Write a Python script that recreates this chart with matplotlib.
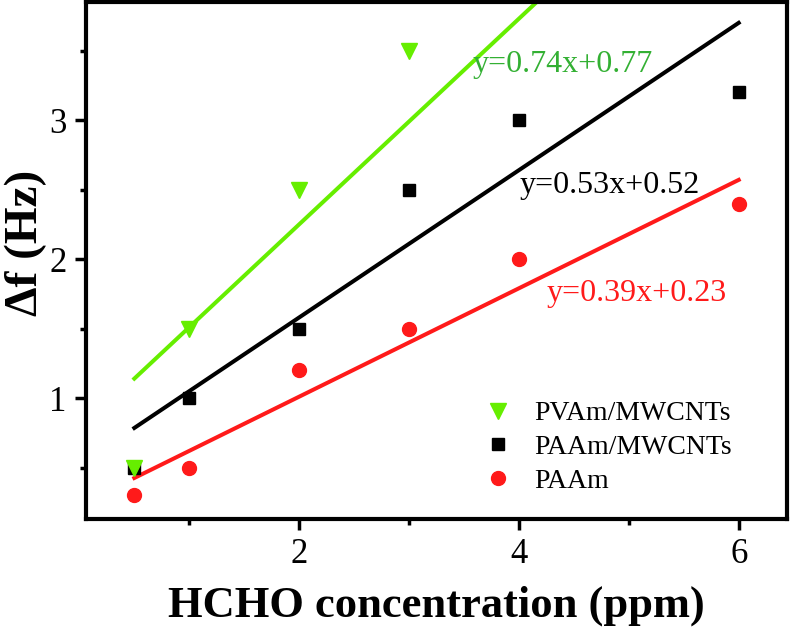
import matplotlib
matplotlib.use("Agg")
import matplotlib.pyplot as plt
import numpy as np
from matplotlib.ticker import MultipleLocator

plt.rcParams['font.family'] = ['Liberation Serif', 'DejaVu Serif']

# data
conc = [0.5, 1, 2, 3, 4, 6]
conc_pvam = [0.5, 1, 2, 3]
paam = [0.3, 0.5, 1.2, 1.5, 2.0, 2.4]
paam_cnt = [0.5, 1.0, 1.5, 2.5, 3.0, 3.2]
pvam_cnt = [0.5, 1.5, 2.5, 3.5]

# linear fits as printed on the chart
slopes = [0.74, 0.53, 0.39]
intercepts = [0.77, 0.52, 0.23]
fit_labels = ["y=0.74x+0.77", "y=0.53x+0.52", "y=0.39x+0.23"]

fig = plt.figure(figsize=(7.91, 6.28), dpi=100)
ax = fig.add_axes([0.1087, 0.1736, 0.8863, 0.8232])

xx = np.array([0.5, 6])
line_colors = ["#66ee00", "black", "#ff1a1a"]
for m, b, c in zip(slopes, intercepts, line_colors):
    ax.plot(xx, m * xx + b, color=c, lw=2.9, zorder=2)

ax.plot(conc, paam, 'o', color="#ff1a1a", ms=10, label="PAAm", zorder=3)
ax.plot(conc, paam_cnt, 's', color="black", ms=8, label="PAAm/MWCNTs", zorder=3)
ax.plot(conc_pvam, pvam_cnt, 'v', color="#66ee00", ms=11, label="PVAm/MWCNTs", zorder=4)

ax.text(3.58, 3.40, fit_labels[0], color="#33b033", fontsize=23, va="center")
ax.text(4.01, 2.53, fit_labels[1], color="black", fontsize=23, va="center")
ax.text(4.25, 1.75, fit_labels[2], color="#ff1a1a", fontsize=23, va="center")

ax.set_xlim(0.06, 6.44)
ax.set_ylim(0.13, 3.85)
ax.xaxis.set_major_locator(MultipleLocator(2))
ax.xaxis.set_minor_locator(MultipleLocator(1))
ax.yaxis.set_major_locator(MultipleLocator(1))
ax.yaxis.set_minor_locator(MultipleLocator(0.5))
ax.tick_params(which="major", direction="out", length=8, width=2.5, labelsize=25, pad=6)
ax.tick_params(which="minor", direction="out", length=4, width=2.5)
for s in ax.spines.values():
    s.set_linewidth(3)

ax.set_xlabel("HCHO concentration (ppm)", fontsize=32, fontweight="bold", labelpad=10)
ax.set_ylabel("Δf (Hz)", fontsize=34, fontweight="bold")
ax.yaxis.set_label_coords(-0.056, 0.534)

h, l = ax.get_legend_handles_labels()
ax.legend(h[::-1], l[::-1], loc="lower right", bbox_to_anchor=(0.957, 0.0),
          frameon=False, fontsize=20, handletextpad=0.7, labelspacing=0.3,
          handlelength=1.2)

fig.savefig("out.png", dpi=100)
